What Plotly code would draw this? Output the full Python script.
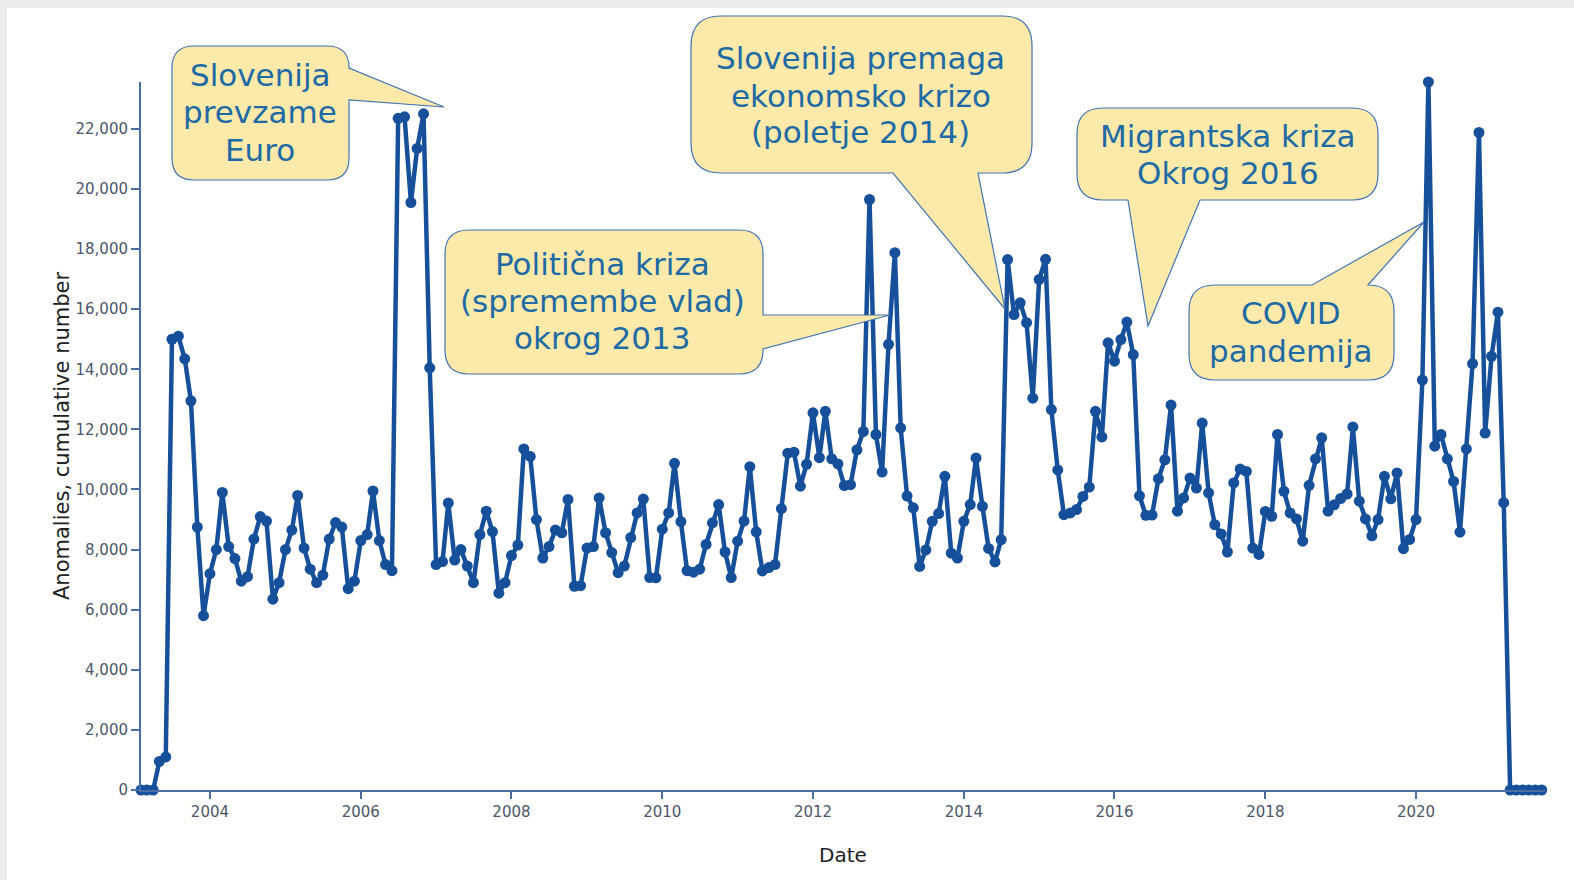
import pandas as pd
import plotly.graph_objects as go

# ---------------- data (monthly, Feb 2003 - Sep 2021) ----------------
v2003 = [0, 0, 0, 950, 1100, 15000, 15100, 14350, 12950, 8750, 5800]          # Feb-Dec
v2004 = [7200, 8000, 9900, 8100, 7700, 6950, 7100, 8350, 9100, 8950, 6350, 6900]
v2005 = [8000, 8650, 9800, 8050, 7350, 6900, 7150, 8350, 8900, 8750, 6700, 6950]
v2006 = [8300, 8500, 9950, 8300, 7500, 7300, 22350, 22400, 19550, 21350, 22500, 14050]
v2007 = [7500, 7600, 9550, 7650, 8000, 7450, 6900, 8500, 9280, 8600, 6550, 6900]
v2008 = [7800, 8150, 11350, 11100, 9000, 7720, 8100, 8650, 8560, 9670, 6780, 6800]
v2009 = [8050, 8100, 9720, 8560, 7900, 7230, 7450, 8400, 9220, 9680, 7070, 7060]
v2010 = [8680, 9220, 10870, 8930, 7300, 7250, 7350, 8170, 8890, 9500, 7920, 7070]
v2011 = [8280, 8950, 10760, 8590, 7290, 7400, 7500, 9360, 11210, 11240, 10110, 10840]
v2012 = [12550, 11060, 12600, 11020, 10850, 10130, 10160, 11320, 11930, 19650, 11830, 10580]
v2013 = [14830, 17880, 12050, 9780, 9390, 7440, 7990, 8940, 9200, 10440, 7880, 7720]
v2014 = [8940, 9500, 11050, 9440, 8040, 7590, 8330, 17650, 15820, 16210, 15550, 13040]
v2015 = [16990, 17660, 12660, 10650, 9160, 9220, 9330, 9770, 10080, 12600, 11750, 14880]
v2016 = [14270, 14990, 15570, 14490, 9790, 9140, 9150, 10360, 10990, 12810, 9280, 9720]
v2017 = [10380, 10050, 12210, 9890, 8830, 8520, 7920, 10220, 10680, 10600, 8050, 7840]
v2018 = [9270, 9110, 11830, 9940, 9220, 9020, 8280, 10140, 11020, 11720, 9280, 9490]
v2019 = [9700, 9850, 12080, 9610, 9020, 8460, 9000, 10440, 9690, 10550, 8030, 8340]
v2020 = [9000, 13640, 23560, 11440, 11830, 11020, 10270, 8580, 11350, 14190, 21880, 11880]
v2021 = [14430, 15900, 9560, 0, 0, 0, 0, 0, 0]                                  # Jan-Sep

values = (v2003 + v2004 + v2005 + v2006 + v2007 + v2008 + v2009 + v2010 + v2011 +
          v2012 + v2013 + v2014 + v2015 + v2016 + v2017 + v2018 + v2019 + v2020 + v2021)
dates = pd.date_range("2003-02-01", periods=len(values), freq="MS")

x_title = "Date"
y_title = "Anomalies, cumulative number"

callout_texts = [
    ["Slovenija", "prevzame", "Euro"],
    ["Politična kriza", "(spremembe vlad)", "okrog 2013"],
    ["Slovenija premaga", "ekonomsko krizo", "(poletje 2014)"],
    ["Migrantska kriza", "Okrog 2016"],
    ["COVID", "pandemija"],
]

# ---------------- styling / layout geometry (pixels) ----------------
W, H = 1574, 880
L, R, T, B = 141, 29, 82, 90
PW, PH = W - L - R, H - T - B

LINE = "#17509a"
AX = "#4a6fa5"
TICKC = "#4b5668"
FILL = "#fde9a9"
EDGE = "#4273b4"
TXT = "#1d6aa5"


def px(x):
    return (x - L) / PW


def py(y):
    return (H - B - y) / PH


def P(x, y):
    return f"{px(x):.5f},{py(y):.5f}"


def callout(x0, y0, x1, y1, r, side, b1, b2, tip):
    """rounded box with a wedge pointer; b1/b2 are the pointer base coords along the side"""
    c = [f"M{P(x0 + r, y0)}"]
    if side == "top":
        c += [f"L{P(b1, y0)}", f"L{P(*tip)}", f"L{P(b2, y0)}"]
    c += [f"L{P(x1 - r, y0)}", f"Q{P(x1, y0)} {P(x1, y0 + r)}"]
    if side == "right":
        c += [f"L{P(x1, b1)}", f"L{P(*tip)}", f"L{P(x1, b2)}"]
    c += [f"L{P(x1, y1 - r)}", f"Q{P(x1, y1)} {P(x1 - r, y1)}"]
    if side == "bottom":
        c += [f"L{P(b1, y1)}", f"L{P(*tip)}", f"L{P(b2, y1)}"]
    c += [f"L{P(x0 + r, y1)}", f"Q{P(x0, y1)} {P(x0, y1 - r)}",
          f"L{P(x0, y0 + r)}", f"Q{P(x0, y0)} {P(x0 + r, y0)}", "Z"]
    return " ".join(c)


boxes = [
    dict(x0=172, y0=46, x1=349, y1=180, r=22, side="right", b1=68, b2=100, tip=(444, 107)),
    dict(x0=445, y0=230, x1=763, y1=374, r=24, side="right", b1=315, b2=349, tip=(890, 315)),
    dict(x0=691, y0=16, x1=1032, y1=173, r=30, side="bottom", b1=978, b2=893, tip=(1005, 309)),
    dict(x0=1077, y0=108, x1=1378, y1=200, r=26, side="bottom", b1=1200, b2=1128, tip=(1148, 326)),
    dict(x0=1189, y0=285, x1=1394, y1=380, r=26, side="top", b1=1312, b2=1368, tip=(1424, 222)),
]
text_pos = [
    (260, [75, 112, 150]),
    (602, [264, 301, 338]),
    (861, [58, 96, 132]),
    (1228, [136, 173]),
    (1291, [313, 351]),
]

fig = go.Figure()
fig.add_trace(go.Scatter(
    x=dates, y=values, mode="lines+markers",
    line=dict(color=LINE, width=4.5),
    marker=dict(size=11, color=LINE),
    cliponaxis=False, hoverinfo="x+y",
))

shapes = [dict(type="rect", xref="paper", yref="paper", layer="below",
               x0=px(7), x1=px(W), y0=py(H), y1=py(8),
               fillcolor="white", line=dict(width=0))]
for b in boxes:
    shapes.append(dict(type="path", xref="paper", yref="paper", layer="above",
                       path=callout(**b), fillcolor=FILL,
                       line=dict(color=EDGE, width=1.2)))

annotations = []
for lines, (cx, ys) in zip(callout_texts, text_pos):
    for t, yy in zip(lines, ys):
        annotations.append(dict(text=t, x=px(cx), y=py(yy), xref="paper", yref="paper",
                                xanchor="center", yanchor="middle", showarrow=False,
                                font=dict(family="DejaVu Sans", size=31, color=TXT)))
annotations.append(dict(text=x_title, x=0.5, y=py(855), xref="paper", yref="paper",
                        xanchor="center", yanchor="middle", showarrow=False,
                        font=dict(family="DejaVu Sans", size=20, color="#222222")))
annotations.append(dict(text=y_title, x=px(62), y=0.5, xref="paper", yref="paper",
                        xanchor="center", yanchor="middle", showarrow=False, textangle=-90,
                        font=dict(family="DejaVu Sans", size=21, color="#222222")))

fig.update_layout(
    width=W, height=H,
    margin=dict(l=L, r=R, t=T, b=B, pad=0),
    paper_bgcolor="#ececec", plot_bgcolor="white",
    showlegend=False,
    shapes=shapes, annotations=annotations,
    xaxis=dict(type="date", range=["2003-02-01", "2021-09-17"],
               showline=True, linecolor=AX, linewidth=2,
               ticks="outside", ticklen=7, tickwidth=2, tickcolor=AX,
               tick0="2004-01-01", dtick="M24", tickformat="%Y",
               showgrid=False, zeroline=False,
               tickfont=dict(family="DejaVu Sans", size=15, color=TICKC)),
    yaxis=dict(range=[0, max(values)],
               showline=True, linecolor=AX, linewidth=2,
               ticks="outside", ticklen=8, tickwidth=2, tickcolor=AX,
               dtick=2000, tickformat=",d",
               showgrid=False, zeroline=False,
               tickfont=dict(family="DejaVu Sans", size=15, color=TICKC)),
)

fig.write_html("out.html", config={"displayModeBar": False}, post_script=(
    "document.body.style.margin='0';document.body.style.overflow='hidden';"
    "document.body.style.background='#ececec';"))
